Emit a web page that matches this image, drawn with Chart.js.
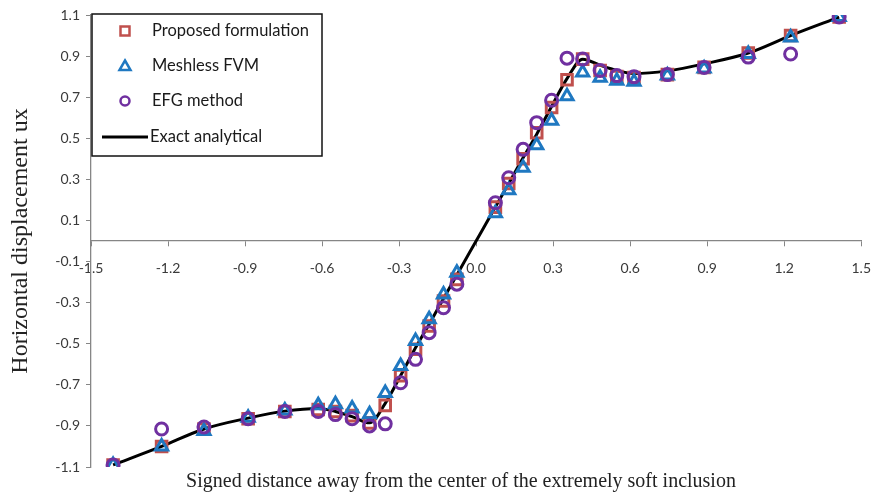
<!DOCTYPE html>
<html lang="en">
<head>
    <meta charset="UTF-8">
    <title>Horizontal displacement</title>
    <script src="https://cdn.jsdelivr.net/npm/chart.js"></script>
    <style>
        body { margin: 0; background: #fff; }
        #wrap { width: 885px; height: 495px; }
    </style>
</head>
<body>
    <div id="wrap"><canvas id="graph-canvas"></canvas></div>

    <script>
        // distances (same for the three marker series)
        const distances = [-1.414, -1.225, -1.06, -0.888, -0.745, -0.615, -0.548, -0.483, -0.415, -0.354,
            -0.294, -0.236, -0.183, -0.127, -0.075, 0.075, 0.127, 0.183, 0.236, 0.294,
            0.354, 0.415, 0.483, 0.548, 0.615, 0.745, 0.888, 1.06, 1.225, 1.414];

        const proposed = [-1.09, -1.0, -0.915, -0.865, -0.83, -0.82, -0.83, -0.85, -0.885, -0.8,
            -0.655, -0.527, -0.414, -0.292, -0.187, 0.165, 0.28, 0.4, 0.527, 0.65,
            0.785, 0.885, 0.83, 0.8, 0.795, 0.81, 0.845, 0.915, 1.0, 1.09];

        const meshless = [-1.09, -1.0, -0.925, -0.86, -0.825, -0.8, -0.795, -0.815, -0.843, -0.74,
            -0.608, -0.487, -0.381, -0.26, -0.154, 0.135, 0.247, 0.357, 0.466, 0.585,
            0.705, 0.82, 0.795, 0.78, 0.775, 0.805, 0.84, 0.91, 0.99, 1.09];

        const efg = [-1.09, -0.915, -0.905, -0.865, -0.83, -0.83, -0.845, -0.865, -0.9, -0.89,
            -0.69, -0.576, -0.446, -0.325, -0.21, 0.186, 0.308, 0.446, 0.576, 0.685,
            0.89, 0.886, 0.83, 0.805, 0.8, 0.81, 0.845, 0.895, 0.91, 1.09];

        // exact analytical curve
        const exactX = [-1.414, -1.225, -1.06, -0.888, -0.745, -0.615, -0.548, -0.483, -0.415, -0.354,
            -0.294, -0.236, -0.183, -0.127, -0.075, 0, 0.075, 0.127, 0.183, 0.236,
            0.294, 0.354, 0.415, 0.483, 0.548, 0.615, 0.745, 0.888, 1.06, 1.225, 1.414];
        const exactY = [-1.09, -1.0, -0.915, -0.862, -0.828, -0.815, -0.83, -0.855, -0.885, -0.79,
            -0.655, -0.52, -0.405, -0.28, -0.165, 0, 0.165, 0.28, 0.405, 0.52,
            0.655, 0.79, 0.885, 0.855, 0.83, 0.815, 0.828, 0.862, 0.915, 1.0, 1.09];

        const xTicks = { min: -1.5, max: 1.5, step: 0.3 };
        const yTicks = { min: -1.1, max: 1.1, step: 0.2 };

        const seriesNames = ['Proposed formulation', 'Meshless FVM', 'EFG method', 'Exact analytical'];
        const xTitle = 'Signed distance away from the center of the extremely soft inclusion';
        const yTitle = 'Horizontal displacement ux';

        const red = '#C0504D';
        const blue = '#1F78C1';
        const purple = '#7030A0';
        const axisGray = '#868686';
        const labelFont = 'Lato';
        const serif = '"Liberation Serif", "Times New Roman", serif';

        function pairs(xs, ys) {
            return xs.map((x, i) => ({ x: x, y: ys[i] }));
        }

        // legend box drawn inside the plot, like the Excel original
        const boxLegend = {
            id: 'boxLegend',
            afterDraw(chart) {
                const ctx = chart.ctx;
                const a = chart.chartArea;
                const left = a.left + 1, top = a.top - 1, w = 230, h = 142;
                ctx.save();
                ctx.fillStyle = '#fff';
                ctx.fillRect(left, top, w, h);
                ctx.strokeStyle = '#111';
                ctx.lineWidth = 1.5;
                ctx.strokeRect(left, top, w, h);

                const mx = left + 33;
                const tx = left + 60;
                const rows = [top + 17, top + 52, top + 87, top + 123];
                ctx.lineWidth = 2.5;

                ctx.strokeStyle = red;
                ctx.strokeRect(mx - 4.5, rows[0] - 4.5, 9, 9);

                ctx.strokeStyle = blue;
                ctx.beginPath();
                ctx.moveTo(mx, rows[1] - 5.5);
                ctx.lineTo(mx + 5.5, rows[1] + 4);
                ctx.lineTo(mx - 5.5, rows[1] + 4);
                ctx.closePath();
                ctx.stroke();

                ctx.strokeStyle = purple;
                ctx.beginPath();
                ctx.arc(mx, rows[2], 4.5, 0, Math.PI * 2);
                ctx.stroke();

                ctx.strokeStyle = '#000';
                ctx.lineWidth = 3;
                ctx.beginPath();
                ctx.moveTo(left + 10, rows[3]);
                ctx.lineTo(left + 56, rows[3]);
                ctx.stroke();

                ctx.fillStyle = '#1a1a1a';
                ctx.font = '16.5px ' + labelFont;
                ctx.textBaseline = 'middle';
                ctx.textAlign = 'left';
                ctx.fillText(seriesNames[0], tx, rows[0]);
                ctx.fillText(seriesNames[1], tx, rows[1]);
                ctx.fillText(seriesNames[2], tx, rows[2]);
                ctx.fillText(seriesNames[3], left + 58, rows[3]);

                // x axis title
                ctx.fillStyle = '#222';
                ctx.font = '20px ' + serif;
                ctx.textAlign = 'center';
                ctx.fillText(xTitle, 461, 482);
                ctx.restore();
            }
        };

        const ctx = document.getElementById('graph-canvas').getContext('2d');

        new Chart(ctx, {
            type: 'scatter',
            data: {
                datasets: [
                    {
                        label: seriesNames[0],
                        data: pairs(distances, proposed),
                        pointStyle: 'rect',
                        pointRadius: 7.5,
                        borderColor: red,
                        backgroundColor: 'rgba(0,0,0,0)',
                        pointBorderWidth: 3,
                        order: 3
                    },
                    {
                        label: seriesNames[1],
                        data: pairs(distances, meshless),
                        pointStyle: 'triangle',
                        pointRadius: 7,
                        borderColor: blue,
                        backgroundColor: 'rgba(0,0,0,0)',
                        pointBorderWidth: 3,
                        order: 2
                    },
                    {
                        label: seriesNames[2],
                        data: pairs(distances, efg),
                        pointStyle: 'circle',
                        pointRadius: 6,
                        borderColor: purple,
                        backgroundColor: 'rgba(0,0,0,0)',
                        pointBorderWidth: 3,
                        order: 1
                    },
                    {
                        label: seriesNames[3],
                        type: 'line',
                        data: pairs(exactX, exactY),
                        borderColor: '#000',
                        borderWidth: 3,
                        pointRadius: 0,
                        showLine: true,
                        fill: false,
                        cubicInterpolationMode: 'monotone',
                        order: 4
                    }
                ]
            },
            options: {
                responsive: true,
                maintainAspectRatio: false,
                animation: false,
                layout: { padding: { top: 15, right: 13, bottom: 28, left: 0 } },
                plugins: {
                    legend: { display: false },
                    tooltip: { enabled: false }
                },
                scales: {
                    x: {
                        type: 'linear',
                        position: { y: 0 },
                        min: xTicks.min,
                        max: xTicks.max,
                        border: { color: axisGray, width: 1.3 },
                        grid: { drawOnChartArea: false, tickLength: 5, color: axisGray },
                        ticks: {
                            stepSize: xTicks.step,
                            padding: 14,
                            color: '#3a3a3a',
                            font: { family: labelFont, size: 14 },
                            callback: v => v.toFixed(1)
                        }
                    },
                    y: {
                        type: 'linear',
                        position: 'left',
                        min: yTicks.min,
                        max: yTicks.max,
                        afterFit: s => { s.width = 91; },
                        border: { color: axisGray, width: 1.3 },
                        grid: { drawOnChartArea: false, tickLength: 5, color: axisGray },
                        ticks: {
                            stepSize: yTicks.step,
                            padding: 6,
                            color: '#3a3a3a',
                            font: { family: labelFont, size: 14 },
                            callback: v => v.toFixed(1)
                        },
                        title: {
                            display: true,
                            text: yTitle,
                            color: '#222',
                            font: { family: serif, size: 24 },
                            padding: { top: 6, bottom: 0 }
                        }
                    }
                }
            },
            plugins: [boxLegend]
        });
    </script>
</body>
</html>
